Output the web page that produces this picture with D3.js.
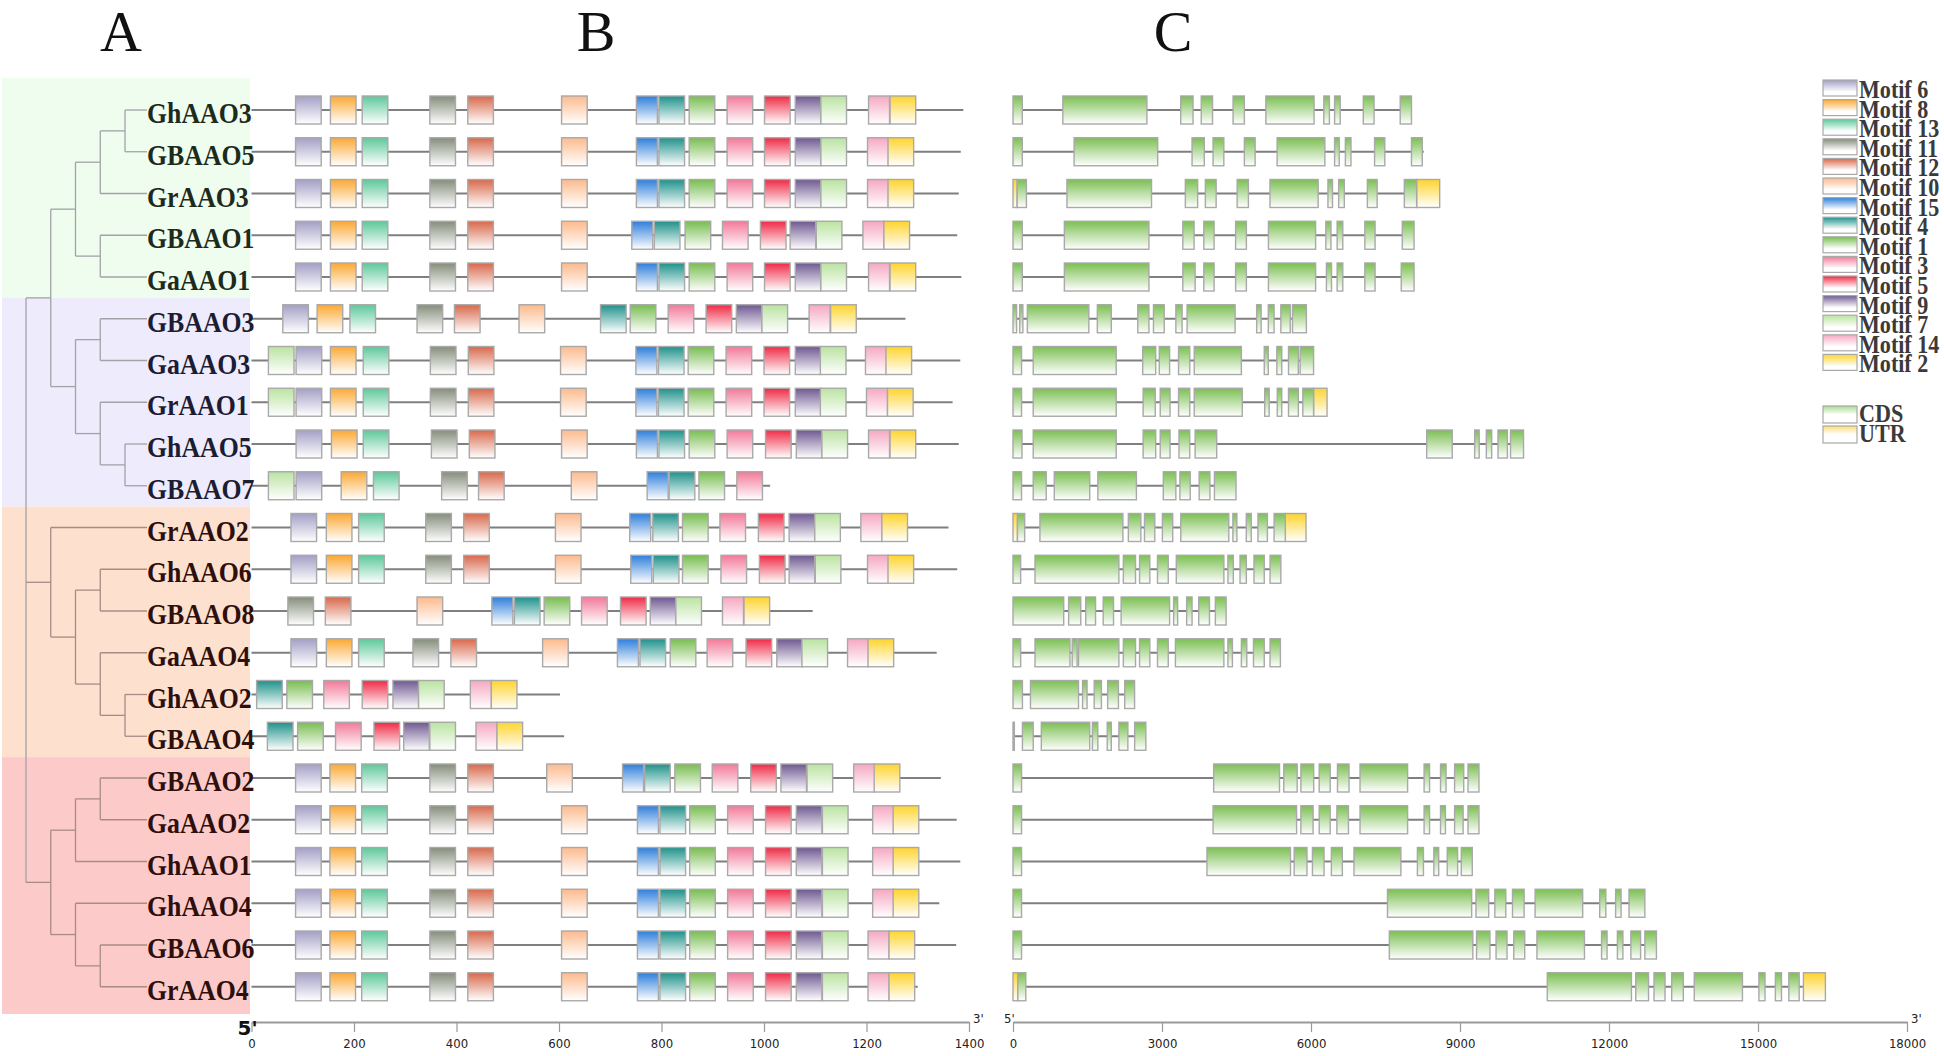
<!DOCTYPE html>
<html><head><meta charset="utf-8">
<script src="https://cdn.jsdelivr.net/npm/d3@7"></script>
<style>body{margin:0;background:#fff} svg{display:block}</style>
</head><body><svg id="c" width="1944" height="1056"></svg>
<script>
// ---------------- data ----------------
const genes = ["GhAAO3","GBAAO5","GrAAO3","GBAAO1","GaAAO1","GBAAO3","GaAAO3","GrAAO1","GhAAO5","GBAAO7",
  "GrAAO2","GhAAO6","GBAAO8","GaAAO4","GhAAO2","GBAAO4","GBAAO2","GaAAO2","GhAAO1","GhAAO4","GBAAO6","GrAAO4"];
const cladeStart = [0, 5, 10, 16];           // first row of each clade
const tree = [
  [[[["GhAAO3","GBAAO5"],"GrAAO3"],["GBAAO1","GaAAO1"]],[["GBAAO3","GaAAO3"],["GrAAO1",["GhAAO5","GBAAO7"]]]],
  ["GrAAO2",[["GhAAO6","GBAAO8"],["GaAAO4",["GhAAO2","GBAAO4"]]]],
  [[["GBAAO2","GaAAO2"],"GhAAO1"],["GhAAO4",["GBAAO6","GrAAO4"]]]
];
const motifIds = [6,8,13,11,12,10,15,4,1,3,5,9,7,14,2];
const motifLength = {6:50,8:50,13:50,11:50,12:50,10:50,15:41,4:50,1:50,3:50,5:50,9:50,7:50,14:41,2:50};
const proteinLength = [1389,1384,1380,1377,1385,1276,1383,1368,1380,1012,1360,1377,1095,1337,602,610,1345,1376,1383,1342,1375,1300];
const motifSites = [
  [[6,86],[8,154],[13,216],[11,348],[12,422],[10,605],[15,751],[4,795],[1,854],[3,928],[5,1001],[9,1061],[7,1111],[14,1204],[2,1246]],
  [[6,86],[8,154],[13,216],[11,348],[12,422],[10,605],[15,751],[4,795],[1,854],[3,928],[5,1001],[9,1061],[7,1111],[14,1202],[2,1242]],
  [[6,86],[8,154],[13,216],[11,348],[12,422],[10,605],[15,751],[4,795],[1,854],[3,928],[5,1001],[9,1061],[7,1111],[14,1202],[2,1242]],
  [[6,86],[8,154],[13,216],[11,348],[12,422],[10,605],[15,742],[4,786],[1,846],[3,919],[5,993],[9,1051],[7,1102],[14,1193],[2,1234]],
  [[6,86],[8,154],[13,216],[11,348],[12,422],[10,605],[15,751],[4,795],[1,854],[3,928],[5,1001],[9,1061],[7,1111],[14,1204],[2,1246]],
  [[6,61],[8,128],[13,192],[11,323],[12,396],[10,522],[4,681],[1,739],[3,813],[5,887],[9,946],[7,996],[14,1088],[2,1130]],
  [[7,33],[6,87],[8,154],[13,218],[11,349],[12,423],[10,603],[15,750],[4,794],[1,852],[3,926],[5,1000],[9,1061],[7,1110],[14,1198],[2,1238]],
  [[7,33],[6,87],[8,154],[13,218],[11,349],[12,423],[10,603],[15,750],[4,794],[1,852],[3,926],[5,1000],[9,1061],[7,1110],[14,1200],[2,1241]],
  [[6,87],[8,156],[13,218],[11,351],[12,425],[10,605],[15,751],[4,795],[1,854],[3,928],[5,1003],[9,1063],[7,1113],[14,1204],[2,1246]],
  [[7,33],[6,87],[8,175],[13,238],[11,371],[12,443],[10,624],[15,772],[4,815],[1,873],[3,947]],
  [[6,77],[8,146],[13,209],[11,340],[12,414],[10,593],[15,738],[4,783],[1,841],[3,914],[5,989],[9,1049],[7,1099],[14,1189],[2,1230]],
  [[6,77],[8,146],[13,209],[11,340],[12,414],[10,593],[15,740],[4,784],[1,841],[3,916],[5,991],[9,1049],[7,1100],[14,1202],[2,1242]],
  [[11,71],[12,144],[10,323],[15,469],[4,513],[1,571],[3,644],[5,720],[9,778],[7,828],[14,919],[2,961]],
  [[6,77],[8,146],[13,209],[11,315],[12,389],[10,568],[15,714],[4,758],[1,817],[3,889],[5,965],[9,1025],[7,1074],[14,1163],[2,1203]],
  [[4,10],[1,69],[3,141],[5,216],[9,276],[7,326],[14,427],[2,468]],
  [[4,31],[1,90],[3,164],[5,239],[9,297],[7,348],[14,438],[2,479]],
  [[6,86],[8,153],[13,215],[11,348],[12,422],[10,576],[15,724],[4,767],[1,826],[3,899],[5,974],[9,1033],[7,1084],[14,1175],[2,1215]],
  [[6,86],[8,153],[13,215],[11,348],[12,422],[10,605],[15,753],[4,797],[1,855],[3,929],[5,1003],[9,1063],[7,1114],[14,1212],[2,1252]],
  [[6,86],[8,153],[13,215],[11,348],[12,422],[10,605],[15,753],[4,797],[1,855],[3,929],[5,1003],[9,1063],[7,1114],[14,1212],[2,1252]],
  [[6,86],[8,153],[13,215],[11,348],[12,422],[10,605],[15,753],[4,797],[1,855],[3,929],[5,1003],[9,1063],[7,1114],[14,1212],[2,1252]],
  [[6,86],[8,153],[13,215],[11,348],[12,422],[10,605],[15,753],[4,797],[1,855],[3,929],[5,1003],[9,1063],[7,1114],[14,1203],[2,1244]],
  [[6,86],[8,153],[13,215],[11,348],[12,422],[10,605],[15,753],[4,797],[1,855],[3,929],[5,1003],[9,1063],[7,1114],[14,1203],[2,1244]]
];
const geneLength = [8023,8271,8591,8075,8075,5907,6052,6323,10279,4490,5900,5393,4291,5384,2448,2675,9382,9382,9247,12722,12955,16357];
const cdsParts = [
  [[0,187],[1003,2696],[3377,3625],[3790,4018],[4431,4658],[5091,6062],[6258,6371],[6475,6588],[7053,7270],[7796,8023]],
  [[0,187],[1230,2913],[3605,3852],[4028,4245],[4658,4875],[5318,6279],[6475,6568],[6692,6805],[7280,7486],[8023,8240]],
  [[84,270],[1086,2789],[3470,3718],[3873,4090],[4513,4740],[5174,6144],[6341,6433],[6557,6671],[7135,7332],[7879,8127]],
  [[0,187],[1034,2737],[3419,3646],[3842,4049],[4482,4699],[5143,6093],[6299,6402],[6526,6640],[7084,7290],[7838,8075]],
  [[0,187],[1034,2737],[3419,3667],[3842,4049],[4482,4699],[5143,6093],[6310,6413],[6526,6640],[7084,7290],[7817,8075]],
  [[0,72],[135,199],[289,1527],[1698,1979],[2512,2737],[2828,3045],[3279,3405],[3505,4472],[4906,4996],[5140,5257],[5393,5582],[5627,5907]],
  [[0,172],[407,2078],[2611,2873],[2945,3153],[3333,3559],[3649,4598],[5059,5140],[5312,5411],[5547,5745],[5781,6052]],
  [[0,172],[407,2078],[2620,2864],[2964,3162],[3333,3559],[3649,4616],[5068,5158],[5321,5411],[5547,5745],[5835,6052]],
  [[0,181],[407,2078],[2620,2873],[2964,3162],[3342,3559],[3667,4101],[8329,8844],[9295,9386],[9530,9638],[9765,9954],[10017,10279]],
  [[0,172],[407,669],[831,1545],[1708,2485],[3026,3279],[3360,3568],[3748,3965],[4056,4490]],
  [[90,235],[542,2213],[2322,2575],[2647,2855],[3008,3216],[3378,4345],[4427,4508],[4697,4797],[4932,5122],[5257,5483]],
  [[0,154],[443,2132],[2222,2467],[2548,2755],[2909,3126],[3288,4246],[4327,4436],[4571,4698],[4852,5059],[5176,5393]],
  [[0,1021],[1120,1364],[1464,1662],[1816,2024],[2177,3153],[3234,3315],[3496,3605],[3739,3956],[4074,4291]],
  [[0,154],[443,1147],[1192,1292],[1319,2132],[2222,2467],[2548,2755],[2909,3126],[3270,4246],[4327,4418],[4598,4707],[4842,5059],[5176,5384]],
  [[0,190],[352,1319],[1400,1491],[1635,1780],[1906,2123],[2249,2448]],
  [[0,27],[190,407],[570,1545],[1599,1708],[1897,1979],[2132,2313],[2449,2675]],
  [[0,172],[4040,5366],[5452,5722],[5796,6054],[6165,6386],[6533,6766],[6987,7945],[8277,8387],[8608,8719],[8891,9075],[9161,9382]],
  [[0,172],[4028,5710],[5796,6042],[6165,6386],[6521,6754],[6987,7945],[8277,8387],[8608,8707],[8891,9063],[9161,9382]],
  [[0,172],[3905,5587],[5661,5919],[6029,6263],[6410,6631],[6865,7810],[8142,8264],[8473,8571],[8743,8952],[9026,9247]],
  [[0,172],[7540,9235],[9321,9578],[9701,9922],[10057,10291],[10512,11470],[11813,11936],[12133,12243],[12403,12722]],
  [[0,172],[7577,9259],[9333,9603],[9726,9947],[10082,10303],[10549,11506],[11850,11961],[12169,12280],[12440,12636],[12722,12955]],
  [[98,258],[10757,12452],[12538,12796],[12906,13128],[13262,13496],[13717,14687],[15018,15141],[15350,15473],[15620,15829]]
];
const utrParts = [[],[],[[0,84],[8127,8591]],[],[],[],[],[[6052,6323]],[],[],[[0,90],[5483,5900]],[],[],[],[],[],[],[],[],[],[],[[0,98],[15915,16357]]];
const proteinTicks = [0,200,400,600,800,1000,1200,1400];
const geneTicks = [0,3000,6000,9000,12000,15000,18000];
const panelLabels = ["A","B","C"];

// ---------------- styles ----------------
const motifColor = {6:"#a39fc6",8:"#fba833",13:"#5dc89a",11:"#858d7b",12:"#d8684b",10:"#fdba8d",15:"#2e7edb",
  4:"#1e918a",1:"#78bd50",3:"#f27999",5:"#ef2a45",9:"#6e5891",7:"#bae3a1",14:"#f6a8c1",2:"#ffd42d"};
const cladeBg = ["#effdee","#eeebfc","#fde0cd","#fdcaca"];
const cladeText = ["#1d2b1d","#1c1c33","#2d0f0c","#2d0f0c"];
const serif = "'Liberation Serif','Times New Roman',serif";
const narrow = "'Liberation Sans Narrow','DejaVu Sans Condensed','Arial Narrow',sans-serif";

const svg = d3.select("#c");
svg.append("rect").attr("width",1944).attr("height",1056).attr("fill","#fff");
const defs = svg.append("defs");
function grad(id, color, stopWhite){
  const g = defs.append("linearGradient").attr("id",id).attr("x1",0).attr("y1",0).attr("x2",0).attr("y2",1);
  g.append("stop").attr("offset",0).attr("stop-color",color);
  g.append("stop").attr("offset",stopWhite).attr("stop-color","#fff");
}
motifIds.forEach(m=>{ grad("mg"+m, motifColor[m], 1); grad("lg"+m, motifColor[m], 0.75); });
grad("cds","#7bbf52",1); grad("utr","#ffd42d",1);
grad("lcds","#a8dc8c",0.5); grad("lutr","#ffdc70",0.5);

// ---------------- scales ----------------
const yRow = d3.scalePoint().domain(genes).range([110, 110 + 21*41.75]);
const xB = d3.scaleLinear().domain([0,1400]).range([251.5,969]);
const xC = d3.scaleLinear().domain([0,18000]).range([1013,1907]);
const xTree = d3.scaleLinear().domain([0,4]).range([26,125]);
const leafX = 147, boxH = 28;

// ---------------- clade backgrounds ----------------
cladeStart.forEach((s,k)=>{
  const e = k < cladeStart.length-1 ? cladeStart[k+1]-1 : genes.length-1;
  const y0 = k===0 ? 78 : (yRow(genes[s-1])+yRow(genes[s]))/2;
  const y1 = k===cladeStart.length-1 ? 1014 : (yRow(genes[e])+yRow(genes[e+1]))/2;
  svg.append("rect").attr("x",2).attr("y",y0).attr("width",248).attr("height",y1-y0).attr("fill",cladeBg[k]);
});
const cladeOf = i => d3.bisectRight(cladeStart, i) - 1;

// ---------------- tree ----------------
const root = d3.hierarchy(tree, d => Array.isArray(d) ? d : null);
root.eachAfter(n=>{
  if(!n.children){ n.py = yRow(n.data); n.px = leafX; }
  else { n.py = (n.children[0].py + n.children[n.children.length-1].py)/2; n.px = xTree(n.depth); }
});
const gT = svg.append("g").attr("fill","none").attr("stroke-width",1.3);
const linkCol = n => genes.indexOf(n.leaves()[0].data) >= 10 ? "#a88c84" : "#a2a2a8";
root.each(n=>{
  if(!n.children) return;
  gT.append("line").attr("x1",n.px).attr("x2",n.px).attr("y1",n.children[0].py).attr("y2",n.children[n.children.length-1].py)
    .attr("stroke", n.depth===0 ? "#a2a2a8" : linkCol(n));
  n.children.forEach(c=>{
    gT.append("line").attr("x1",n.px).attr("x2",c.px).attr("y1",c.py).attr("y2",c.py).attr("stroke",linkCol(c));
  });
});

// ---------------- motif panel (B) ----------------
const gB = svg.append("g");
genes.forEach((g,i)=>{
  const y = yRow(g);
  gB.append("line").attr("x1",xB(0)).attr("x2",xB(proteinLength[i])).attr("y1",y).attr("y2",y)
    .attr("stroke","#7f7f7f").attr("stroke-width",2.2);
  motifSites[i].forEach(([m,s])=>{
    gB.append("rect").attr("x",xB(s)).attr("y",y-boxH/2).attr("width",xB(s+motifLength[m])-xB(s)).attr("height",boxH)
      .attr("fill","url(#mg"+m+")").attr("stroke","#a9a9a9").attr("stroke-width",1.4);
  });
});

// ---------------- gene structure panel (C) ----------------
const gC = svg.append("g");
genes.forEach((g,i)=>{
  const y = yRow(g);
  gC.append("line").attr("x1",xC(0)).attr("x2",xC(geneLength[i])).attr("y1",y).attr("y2",y)
    .attr("stroke","#7f7f7f").attr("stroke-width",2.2);
  utrParts[i].forEach(([s,e])=>{
    gC.append("rect").attr("x",xC(s)).attr("y",y-boxH/2).attr("width",xC(e)-xC(s)).attr("height",boxH)
      .attr("fill","url(#utr)").attr("stroke","#a9a9a9").attr("stroke-width",1.4);
  });
  cdsParts[i].forEach(([s,e])=>{
    gC.append("rect").attr("x",xC(s)).attr("y",y-boxH/2).attr("width",xC(e)-xC(s)).attr("height",boxH)
      .attr("fill","url(#cds)").attr("stroke","#a9a9a9").attr("stroke-width",1.4);
  });
});

// ---------------- gene labels ----------------
genes.forEach((g,i)=>{
  svg.append("text").attr("transform",`translate(${leafX},${yRow(g)+13}) scale(0.86,1)`)
    .attr("font-family",serif).attr("font-weight","bold").attr("font-size",30)
    .attr("fill",cladeText[cladeOf(i)]).text(g);
});

// ---------------- axes ----------------
function styleAxis(sel){
  sel.select(".domain").attr("stroke","#9a9a9a").attr("stroke-width",2);
  sel.selectAll(".tick line").attr("stroke","#9a9a9a").attr("stroke-width",1.2);
  sel.selectAll(".tick text").attr("font-family",narrow).attr("font-size",13).attr("fill","#222");
}
const axY = 1022;
svg.append("g").attr("transform",`translate(0,${axY})`)
  .call(d3.axisBottom(xB).tickValues(proteinTicks).tickSize(10).tickSizeOuter(0).tickPadding(7).tickFormat(d3.format("d")))
  .call(styleAxis);
svg.append("g").attr("transform",`translate(0,${axY})`)
  .call(d3.axisBottom(xC).tickValues(geneTicks).tickSize(10).tickSizeOuter(0).tickPadding(7).tickFormat(d3.format("d")))
  .call(styleAxis);
svg.append("text").attr("x",xB(0)-14).attr("y",axY+13).attr("font-family","'DejaVu Sans',sans-serif").attr("font-weight","bold")
  .attr("font-size",20).attr("fill","#111").text("5'");
svg.append("text").attr("x",xB(1400)+4).attr("y",axY+1).attr("font-family",narrow).attr("font-size",13).attr("fill","#222").text("3'");
svg.append("text").attr("x",xC(0)-9).attr("y",axY+1).attr("font-family",narrow).attr("font-size",13).attr("fill","#222").text("5'");
svg.append("text").attr("x",xC(18000)+4).attr("y",axY+1).attr("font-family",narrow).attr("font-size",13).attr("fill","#222").text("3'");

// ---------------- panel letters ----------------
const letterX = [121, 596, 1173];
panelLabels.forEach((t,k)=>{
  svg.append("text").attr("x",letterX[k]).attr("y",51).attr("text-anchor","middle")
    .attr("font-family",serif).attr("font-size",58).attr("fill","#111").text(t);
});

// ---------------- legend ----------------
const lg = svg.append("g");
const legY = d3.scalePoint().domain(motifIds).range([80, 80 + 14*19.6]);
motifIds.forEach(m=>{
  lg.append("rect").attr("x",1823).attr("y",legY(m)).attr("width",34).attr("height",16)
    .attr("fill","url(#lg"+m+")").attr("stroke","#a9a9a9").attr("stroke-width",1.2);
  lg.append("text").attr("transform",`translate(1859,${legY(m)+18}) scale(0.85,1)`)
    .attr("font-family",serif).attr("font-weight","bold").attr("font-size",26).attr("fill","#3a3a3a").text("Motif "+m);
});
[["CDS","lcds",406],["UTR","lutr",426]].forEach(([t,id,y])=>{
  lg.append("rect").attr("x",1823).attr("y",y).attr("width",34).attr("height",17)
    .attr("fill","url(#"+id+")").attr("stroke","#a9a9a9").attr("stroke-width",1.2);
  lg.append("text").attr("transform",`translate(1859,${y+16}) scale(0.85,1)`)
    .attr("font-family",serif).attr("font-weight","bold").attr("font-size",26).attr("fill","#3a3a3a").text(t);
});
</script></body></html>
